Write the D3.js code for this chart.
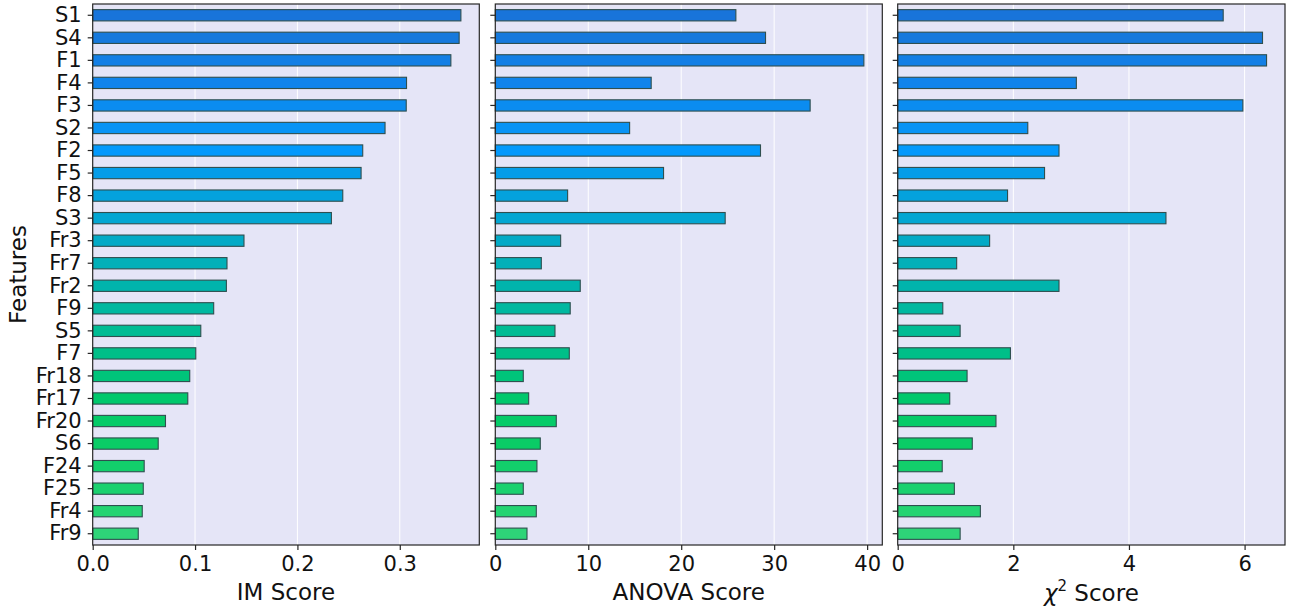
<!DOCTYPE html>
<html>
<head>
<meta charset="utf-8">
<script src="https://cdn.jsdelivr.net/npm/d3@7"></script>
<style>
  html, body { margin: 0; padding: 0; background: #ffffff; }
  svg { display: block; font-family: "DejaVu Sans", sans-serif; }
</style>
</head>
<body>
<svg id="chart" width="1295" height="612"></svg>
<script>
// Feature names, in ranked order (top to bottom)
const features = ["S1", "S4", "F1", "F4", "F3", "S2", "F2", "F5", "F8", "S3", "Fr3", "Fr7",
                  "Fr2", "F9", "S5", "F7", "Fr18", "Fr17", "Fr20", "S6", "F24", "F25", "Fr4", "Fr9"];

// Scores per method
const imScores = [0.3597, 0.3580, 0.3499, 0.3066, 0.3063, 0.2856, 0.2638, 0.2622, 0.2443, 0.2332, 0.1478, 0.1312,
                  0.1306, 0.1182, 0.1056, 0.1007, 0.0948, 0.0929, 0.0711, 0.0640, 0.0503, 0.0494, 0.0484, 0.0445];
const anovaScores = [25.88, 29.07, 39.65, 16.77, 33.87, 14.45, 28.53, 18.10, 7.78, 24.73, 7.03, 4.95,
                     9.14, 8.06, 6.42, 7.96, 3.01, 3.59, 6.56, 4.84, 4.48, 3.01, 4.41, 3.41];
const chi2Scores = [5.63, 6.31, 6.38, 3.09, 5.97, 2.25, 2.79, 2.54, 1.90, 4.64, 1.59, 1.02,
                    2.79, 0.78, 1.08, 1.95, 1.20, 0.90, 1.70, 1.29, 0.77, 0.98, 1.43, 1.08];

// Tick values for each x axis
const imTicks = [0.0, 0.1, 0.2, 0.3];
const anovaTicks = [0, 10, 20, 30, 40];
const chi2Ticks = [0, 2, 4, 6];

// Bar palette, blue to green down the ranking
const barColors = ["#1874da", "#1679dc", "#137fe5", "#1084eb", "#0b8cf0", "#0893f5", "#0399fc", "#059de8",
                   "#04a2dd", "#03a6d2", "#03aac6", "#02b0b8", "#00b4ac", "#00b8a0", "#00bc94", "#00bf88",
                   "#00c47a", "#00c86c", "#05cb68", "#0acc66", "#12cf6b", "#1bd16f", "#24d472", "#2ed478"];

const svg = d3.select("#chart");
const plotTop = 4, plotBottom = 545;
const tickFont = 21, titleFont = 23;

const panels = [
  { x0: 92.7,  x1: 479.3, values: imScores,    ticks: imTicks,    fmt: d3.format(".1f"), label: "IM Score" },
  { x0: 495.3, x1: 882.3, values: anovaScores, ticks: anovaTicks, fmt: d3.format("d"),   label: "ANOVA Score" },
  { x0: 897.7, x1: 1285,  values: chi2Scores,  ticks: chi2Ticks,  fmt: d3.format("d"),   label: "chi" }
];

const y = d3.scaleBand()
  .domain(features)
  .range([plotTop, plotBottom])
  .paddingInner(0.5)
  .paddingOuter(0.25);

panels.forEach((p, pi) => {
  const maxV = d3.max(p.values) * 1.05;
  const x = d3.scaleLinear().domain([0, maxV]).range([p.x0, p.x1]);
  const g = svg.append("g");

  // plot background
  g.append("rect")
    .attr("x", p.x0).attr("y", plotTop)
    .attr("width", p.x1 - p.x0).attr("height", plotBottom - plotTop)
    .attr("fill", "#e5e5f7");

  // vertical grid lines
  g.selectAll("line.grid")
    .data(p.ticks)
    .join("line")
    .attr("class", "grid")
    .attr("x1", d => x(d)).attr("x2", d => x(d))
    .attr("y1", plotTop).attr("y2", plotBottom)
    .attr("stroke", "#ffffff")
    .attr("stroke-width", 1);

  // bars
  g.selectAll("rect.bar")
    .data(features.map((f, i) => ({ f, v: p.values[i], c: barColors[i] })))
    .join("rect")
    .attr("class", "bar")
    .attr("x", x(0))
    .attr("y", d => y(d.f))
    .attr("width", d => x(d.v) - x(0))
    .attr("height", y.bandwidth())
    .attr("fill", d => d.c)
    .attr("stroke", "#2f4f4f")
    .attr("stroke-width", 1.1);

  // frame
  g.append("rect")
    .attr("x", p.x0).attr("y", plotTop)
    .attr("width", p.x1 - p.x0).attr("height", plotBottom - plotTop)
    .attr("fill", "none")
    .attr("stroke", "#262626")
    .attr("stroke-width", 1.2);

  // x axis
  const xAxis = d3.axisBottom(x).tickValues(p.ticks).tickFormat(p.fmt).tickSizeInner(5).tickSizeOuter(0).tickPadding(6);
  const gx = g.append("g").attr("transform", `translate(0,${plotBottom})`).call(xAxis);
  gx.select(".domain").remove();
  gx.selectAll(".tick line").attr("stroke", "#262626").attr("stroke-width", 1.2);
  gx.selectAll(".tick text").attr("font-size", tickFont).attr("fill", "#111").attr("font-family", "DejaVu Sans");

  // y axis
  const yAxis = d3.axisLeft(y).tickSizeInner(5).tickSizeOuter(0).tickPadding(6);
  const gy = g.append("g").attr("transform", `translate(${p.x0},0)`).call(yAxis);
  gy.select(".domain").remove();
  gy.selectAll(".tick line").attr("stroke", "#262626").attr("stroke-width", 1.2);
  if (pi === 0) {
    gy.selectAll(".tick text").attr("font-size", tickFont).attr("fill", "#111").attr("font-family", "DejaVu Sans");
  } else {
    gy.selectAll(".tick text").remove();
  }

  // x axis title
  const cx = (p.x0 + p.x1) / 2;
  if (p.label === "chi") {
    const t = g.append("text")
      .attr("x", cx).attr("y", 601)
      .attr("text-anchor", "middle")
      .attr("font-size", titleFont).attr("fill", "#111");
    t.append("tspan").attr("font-style", "italic").text("χ");
    t.append("tspan").attr("font-size", 15).attr("dy", -10).text("2");
    t.append("tspan").attr("dy", 10).text(" Score");
  } else {
    g.append("text")
      .attr("x", cx).attr("y", 600)
      .attr("text-anchor", "middle")
      .attr("font-size", titleFont).attr("fill", "#111")
      .text(p.label);
  }
});

// y axis title
svg.append("text")
  .attr("transform", `translate(26,${(plotTop + plotBottom) / 2}) rotate(-90)`)
  .attr("text-anchor", "middle")
  .attr("font-size", titleFont).attr("fill", "#111")
  .text("Features");
</script>
</body>
</html>
